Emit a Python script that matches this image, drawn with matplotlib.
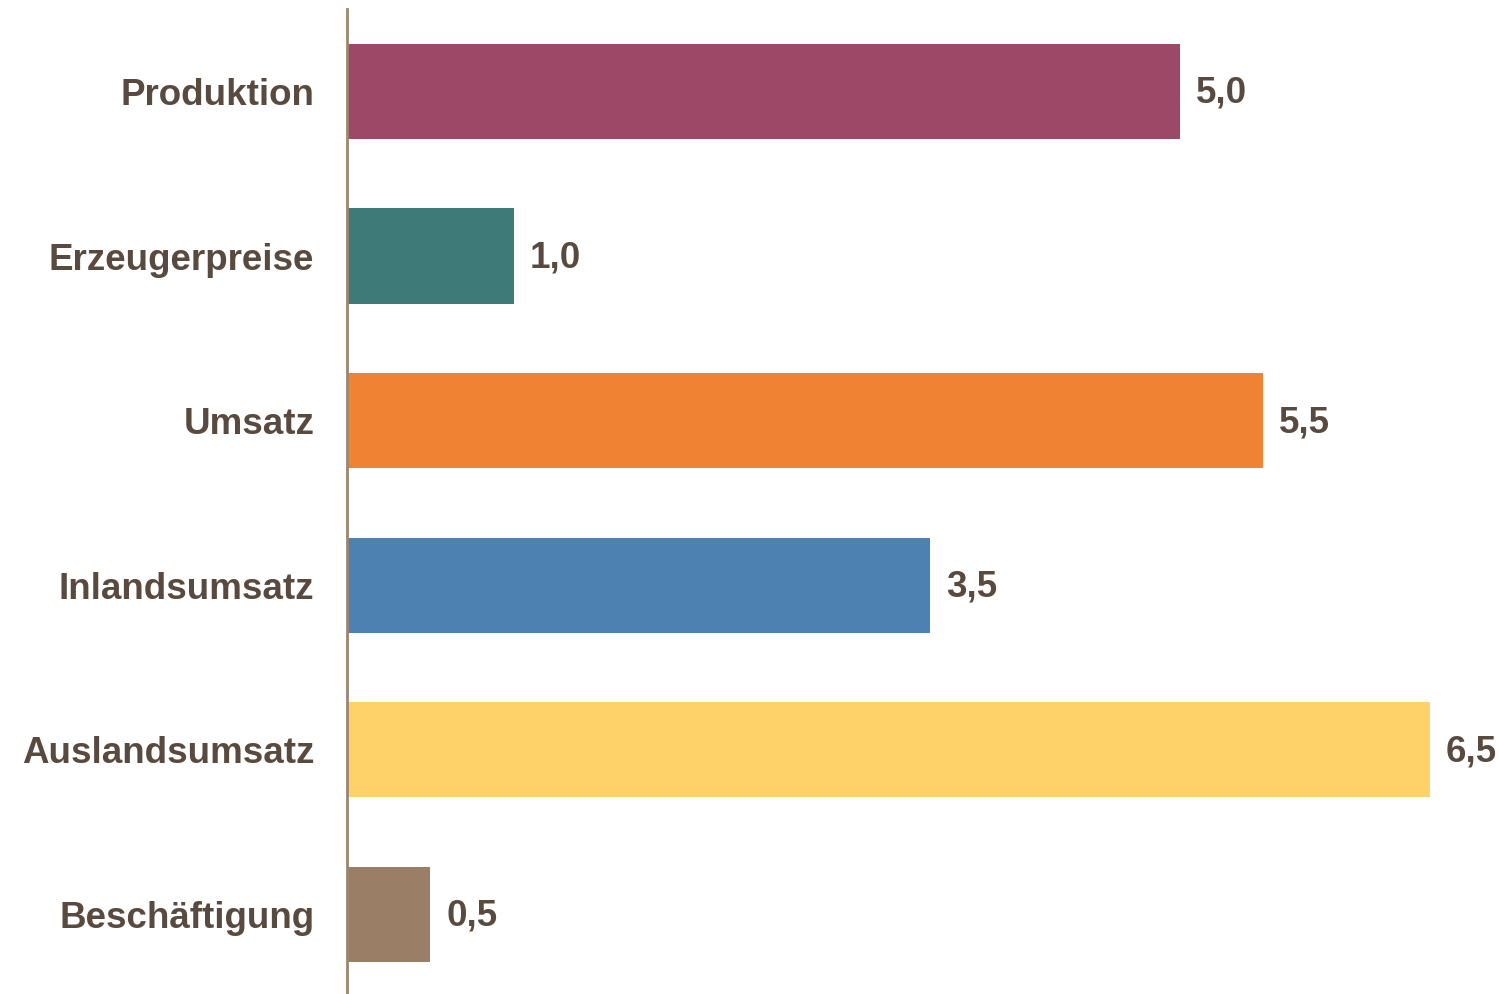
import matplotlib
matplotlib.use("Agg")
from matplotlib import pyplot as plt

# categories top to bottom, values in percent
categories = ["Produktion", "Erzeugerpreise", "Umsatz", "Inlandsumsatz", "Auslandsumsatz", "Beschäftigung"]
values = [5.0, 1.0, 5.5, 3.5, 6.5, 0.5]
labels = ["5,0", "1,0", "5,5", "3,5", "6,5", "0,5"]
colors = ["#9E4868", "#3E7A78", "#EF8233", "#4C81B2", "#FFD169", "#9A7F66"]

text_color = "#584A3E"
plt.rcParams["font.family"] = ["Liberation Sans", "DejaVu Sans"]

fig = plt.figure(figsize=(15.01, 9.94), dpi=100)
ax = fig.add_axes([347 / 1501, -0.0028, 1 - 347 / 1501, 0.9936])

pos = list(range(len(categories)))
ax.barh(pos, values, height=0.578, color=colors)
# value labels to the right of each bar
for p, v, lab in zip(pos, values, labels):
    ax.text(v + 0.095, p + 0.012, lab, va="center", ha="left", fontsize=26.5,
            fontweight="bold", color=text_color)

ax.set_xlim(0, (1501 - 347) / 166.6)
ax.set_ylim(5.5, -0.5)
ax.set_yticks(pos)
ax.set_yticklabels(categories, fontsize=26.5, fontweight="bold", color=text_color)
ax.tick_params(axis="y", length=0, pad=23.5)
ax.set_xticks([])
for s in ["top", "right", "bottom"]:
    ax.spines[s].set_visible(False)
ax.spines["left"].set_color("#9A8570")
ax.spines["left"].set_linewidth(2)

fig.savefig("out.png", dpi=100)
